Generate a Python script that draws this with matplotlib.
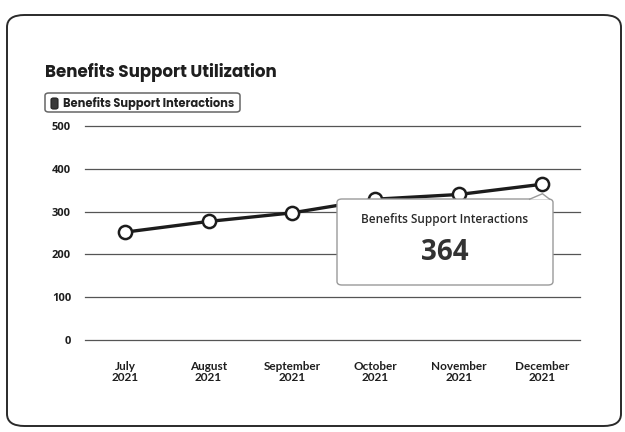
import matplotlib
matplotlib.use("Agg")
import matplotlib.pyplot as plt
from matplotlib.patches import FancyBboxPatch, Polygon

# Monthly benefits-support interactions
months = ["July\n2021", "August\n2021", "September\n2021",
          "October\n2021", "November\n2021", "December\n2021"]
interactions = [252, 277, 297, 329, 340, 364]
y_ticks = [0, 100, 200, 300, 400, 500]

series_name = "Benefits Support Interactions"
chart_title = "Benefits Support Utilization"
highlight_index = 5

W, H = 625, 432
fig = plt.figure(figsize=(W / 100, H / 100), dpi=100)
fig.patch.set_facecolor("white")


def fx(px):
    return px / W


def fy(py):
    return 1 - py / H


# Card outline
card = FancyBboxPatch((fx(7), fy(426)), fx(621 - 7), (426 - 15) / H,
                      boxstyle="round,pad=0,rounding_size=0.028",
                      transform=fig.transFigure, facecolor="none",
                      edgecolor="#2a2a2a", linewidth=1.4, zorder=-1)
fig.patches.append(card)

# Title
fig.text(fx(45), fy(73), chart_title, fontsize=12, fontweight="bold",
         family=["Poppins", "Open Sans", "DejaVu Sans"], color="#1e1e1e",
         ha="left", va="center")

# Legend chip
legend_box = FancyBboxPatch((fx(45), fy(112)), fx(195), 19 / H,
                            boxstyle="round,pad=0,rounding_size=0.006",
                            transform=fig.transFigure, facecolor="white",
                            edgecolor="#666666", linewidth=1.1)
fig.patches.append(legend_box)
legend_icon = FancyBboxPatch((fx(51), fy(109)), fx(7), 11 / H,
                             boxstyle="round,pad=0,rounding_size=0.004",
                             transform=fig.transFigure, facecolor="#3a3a3a",
                             edgecolor="#222222", linewidth=0.8)
fig.patches.append(legend_icon)
fig.text(fx(63), fy(103), series_name, fontsize=8.2, fontweight="bold",
         family=["Poppins", "Open Sans", "DejaVu Sans"], color="#222222",
         ha="left", va="center")

# Plot area
ax = fig.add_axes([fx(85), fy(340), fx(580 - 85), (340 - 126) / H])
ax.set_facecolor("none")
x = list(range(len(months)))
ax.plot(x, interactions, color="#1c1c1c", linewidth=2.4, zorder=3,
        marker="o", markersize=9.5, markerfacecolor="white",
        markeredgecolor="#1c1c1c", markeredgewidth=1.8, clip_on=False)

ax.set_xlim(-0.48, 5.45)
ax.set_ylim(0, 500)
ax.set_yticks(y_ticks)
ax.set_xticks(x)
ax.set_xticklabels(months, linespacing=1.05)
ax.grid(axis="y", color="#555555", linewidth=0.9)
for gl in ax.get_ygridlines():
    gl.set_clip_on(False)
ax.set_axisbelow(True)
for side in ax.spines.values():
    side.set_visible(False)
ax.tick_params(axis="both", length=0, labelcolor="#1e1e1e")
ax.tick_params(axis="y", pad=10)
ax.tick_params(axis="x", pad=15)
for lab in ax.get_yticklabels():
    lab.set_fontsize(8)
    lab.set_fontweight("bold")
    lab.set_family(["Open Sans", "DejaVu Sans"])
for lab in ax.get_xticklabels():
    lab.set_fontsize(8.5)
    lab.set_fontweight("bold")
    lab.set_family(["Lato", "DejaVu Sans"])

# Tooltip for the highlighted month
tip = FancyBboxPatch((fx(337), fy(285)), fx(553 - 337), (285 - 199) / H,
                     boxstyle="round,pad=0,rounding_size=0.008",
                     transform=fig.transFigure, facecolor="white",
                     edgecolor="#9a9a9a", linewidth=1.0, zorder=5)
fig.patches.append(tip)
px, py = ax.transData.transform((highlight_index, interactions[highlight_index]))
tip_x, tip_y = fig.transFigure.inverted().transform((px, py))
arrow = Polygon([(fx(529), fy(199.5)), (tip_x, tip_y - 0.022),
                 (fx(550), fy(199.5))], closed=False,
                transform=fig.transFigure, facecolor="white",
                edgecolor="#9a9a9a", linewidth=1.0, zorder=5)
fig.patches.append(arrow)
fig.text(fx(445), fy(219), series_name, fontsize=8.5, fontweight="semibold",
         family=["Open Sans", "DejaVu Sans"], color="#2a2a2a",
         ha="center", va="center", zorder=6)
fig.text(fx(445), fy(252), f"{interactions[highlight_index]}", fontsize=20,
         fontweight="bold", family=["Open Sans", "DejaVu Sans"],
         color="#333333", ha="center", va="center", zorder=6)

fig.savefig("out.png", dpi=100, facecolor="white")
